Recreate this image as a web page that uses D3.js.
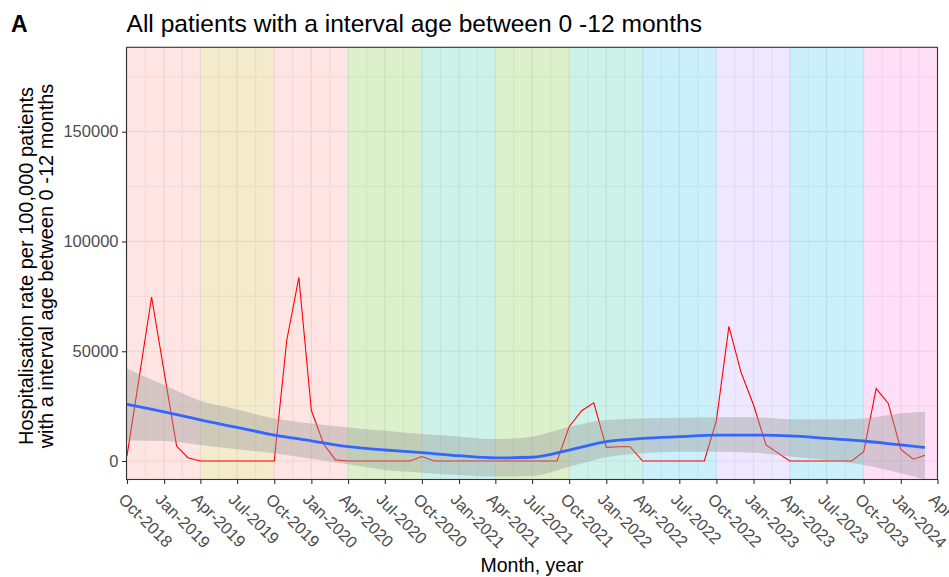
<!DOCTYPE html>
<html>
<head>
<meta charset="utf-8">
<script src="https://cdn.jsdelivr.net/npm/d3@7"></script>
<style>
  body { margin: 0; background: #fff; }
  svg { display: block; font-family: "Liberation Sans", Arial, sans-serif; }
</style>
</head>
<body>
<svg id="main_svg" width="949" height="577"></svg>
<script>
// monthly hospitalisation rate, Oct 2018 - Mar 2024
const months = [
  '2018-10', '2018-11', '2018-12',
  '2019-01', '2019-02', '2019-03', '2019-04', '2019-05', '2019-06',
  '2019-07', '2019-08', '2019-09', '2019-10', '2019-11', '2019-12',
  '2020-01', '2020-02', '2020-03', '2020-04', '2020-05', '2020-06',
  '2020-07', '2020-08', '2020-09', '2020-10', '2020-11', '2020-12',
  '2021-01', '2021-02', '2021-03', '2021-04', '2021-05', '2021-06',
  '2021-07', '2021-08', '2021-09', '2021-10', '2021-11', '2021-12',
  '2022-01', '2022-02', '2022-03', '2022-04', '2022-05', '2022-06',
  '2022-07', '2022-08', '2022-09', '2022-10', '2022-11', '2022-12',
  '2023-01', '2023-02', '2023-03', '2023-04', '2023-05', '2023-06',
  '2023-07', '2023-08', '2023-09', '2023-10', '2023-11', '2023-12',
  '2024-01', '2024-02', '2024-03'
];
const rates = [
  2300, 39000, 74700,
  40600, 6800, 1500, 0, 0, 0,
  0, 0, 0, 0, 55000, 83600,
  23000, 7500, 500, 0, 0, 0,
  0, 0, 0, 2000, 0, 0,
  0, 0, 0, 0, 0, 0,
  0, 0, 0, 15600, 22900, 26500,
  6200, 6500, 6500, 0, 0, 0,
  0, 0, 0, 18500, 61300, 40400,
  25500, 7300, 3800, 0, 0, 0,
  0, 0, 0, 4200, 33000, 26200,
  5300, 800, 2600
];

const smooth_dates = [
  '2018-10-01', '2019-01-01', '2019-04-01', '2019-07-01', '2019-10-01',
  '2020-01-01', '2020-04-01', '2020-07-01', '2020-10-01', '2021-01-01',
  '2021-04-01', '2021-07-01', '2021-10-01', '2022-01-01', '2022-04-01',
  '2022-07-01', '2022-10-01', '2023-01-01', '2023-04-01', '2023-07-01',
  '2023-10-01', '2024-01-01', '2024-03-01'
];
const smooth_fit = [
  25800, 22400, 18700, 15300, 11800, 9200, 6500, 5000, 3800, 2400,
  1400, 1700, 5000, 8800, 10300, 11100, 11800, 11800, 11400, 10300,
  9100, 7300, 6200
];
const smooth_lower = [
  9300, 9100, 7300, 5300, 3500, 1000, -1500, -4100, -5300, -6400,
  -7100, -6800, -2600, 1700, 3500, 4200, 4200, 3800, 2000, 450,
  -1800, -5600, -8300
];
const smooth_upper = [
  42000, 34600, 27400, 23500, 19400, 17100, 15300, 13800, 12300, 11100,
  10000, 11100, 15600, 18700, 19400, 19700, 19900, 19900, 19000, 19000,
  19400, 21700, 22400
];

// season shading
const season_starts = [
  '2018-10-01', '2019-04-01', '2019-10-01', '2020-04-01', '2020-10-01', '2021-04-01',
  '2021-10-01', '2022-04-01', '2022-10-01', '2023-04-01', '2023-10-01'
];
const season_ends = [
  '2019-04-01', '2019-10-01', '2020-04-01', '2020-10-01', '2021-04-01', '2021-10-01',
  '2022-04-01', '2022-10-01', '2023-04-01', '2023-10-01', '2024-04-01'
];
const season_colors = [
  '#F8766D', '#C49A00', '#F8766D', '#53B400', '#00C094', '#53B400',
  '#00C094', '#00B6EB', '#A58AFF', '#00B6EB', '#FB61D7'
];

const x_ticks = [
  '2018-10-01', '2019-01-01', '2019-04-01', '2019-07-01', '2019-10-01', '2020-01-01',
  '2020-04-01', '2020-07-01', '2020-10-01', '2021-01-01', '2021-04-01', '2021-07-01',
  '2021-10-01', '2022-01-01', '2022-04-01', '2022-07-01', '2022-10-01', '2023-01-01',
  '2023-04-01', '2023-07-01', '2023-10-01', '2024-01-01', '2024-04-01'
];
const y_ticks = [0, 50000, 100000, 150000];
const y_minor = [25000, 75000, 125000, 175000];

const parse_day = d3.timeParse('%Y-%m-%d');
const parse_month = d3.timeParse('%Y-%m');

const panel = { left: 126.5, right: 937.5, top: 47.3, bottom: 479.5 };

const x = d3.scaleTime()
  .domain([parse_day('2018-10-01'), parse_day('2024-04-01')])
  .range([panel.left + 0.5, panel.right]);
const y = d3.scaleLinear()
  .domain([-8430, 188450])
  .range([panel.bottom, panel.top]);

const svg = d3.select('#main_svg');

svg.append('defs').append('clipPath')
  .attr('id', 'panel_clip')
  .append('rect')
  .attr('x', panel.left)
  .attr('y', panel.top)
  .attr('width', panel.right - panel.left)
  .attr('height', panel.bottom - panel.top);

const plot = svg.append('g').attr('clip-path', 'url(#panel_clip)');

plot.append('rect')
  .attr('x', panel.left)
  .attr('y', panel.top)
  .attr('width', panel.right - panel.left)
  .attr('height', panel.bottom - panel.top)
  .style('fill', '#fff');

// grid: majors on ticks, minors half way between
const tick_dates = x_ticks.map(parse_day);
const minor_dates = [];
for (let i = 0; i < tick_dates.length - 1; i++) {
  minor_dates.push(new Date((+tick_dates[i] + +tick_dates[i + 1]) / 2));
}

plot.selectAll('.vert_minor')
  .data(minor_dates)
  .enter()
  .append('line')
  .attr('class', 'vert_minor')
  .attr('x1', d => x(d)).attr('x2', d => x(d))
  .attr('y1', panel.top).attr('y2', panel.bottom)
  .style('stroke', '#EBEBEB')
  .style('stroke-width', '0.8px');

plot.selectAll('.horz_minor')
  .data(y_minor)
  .enter()
  .append('line')
  .attr('class', 'horz_minor')
  .attr('x1', panel.left).attr('x2', panel.right)
  .attr('y1', d => y(d)).attr('y2', d => y(d))
  .style('stroke', '#EBEBEB')
  .style('stroke-width', '0.8px');

plot.selectAll('.vert_major')
  .data(tick_dates)
  .enter()
  .append('line')
  .attr('class', 'vert_major')
  .attr('x1', d => x(d)).attr('x2', d => x(d))
  .attr('y1', panel.top).attr('y2', panel.bottom)
  .style('stroke', '#EBEBEB')
  .style('stroke-width', '1.2px');

plot.selectAll('.horz_major')
  .data(y_ticks)
  .enter()
  .append('line')
  .attr('class', 'horz_major')
  .attr('x1', panel.left).attr('x2', panel.right)
  .attr('y1', d => y(d)).attr('y2', d => y(d))
  .style('stroke', '#EBEBEB')
  .style('stroke-width', '1.2px');

// season rectangles
plot.selectAll('.season')
  .data(season_starts)
  .enter()
  .append('rect')
  .attr('class', 'season')
  .attr('x', d => x(parse_day(d)))
  .attr('y', panel.top)
  .attr('width', (d, i) => x(parse_day(season_ends[i])) - x(parse_day(d)))
  .attr('height', panel.bottom - panel.top)
  .style('fill', (d, i) => season_colors[i])
  .style('fill-opacity', 0.2);

// observed rate
const rate_data = months.map((m, i) => ({ date: parse_month(m), value: rates[i] }));

plot.append('path')
  .datum(rate_data)
  .attr('d', d3.line().x(d => x(d.date)).y(d => y(d.value)))
  .style('fill', 'none')
  .style('stroke', '#FF0000')
  .style('stroke-width', '1.1px');

// smooth with ribbon
const smooth_data = smooth_dates.map((s, i) => ({
  date: parse_day(s),
  fit: smooth_fit[i],
  lower: smooth_lower[i],
  upper: smooth_upper[i]
}));

plot.append('path')
  .datum(smooth_data)
  .attr('d', d3.area()
    .curve(d3.curveMonotoneX)
    .x(d => x(d.date))
    .y0(d => y(d.lower))
    .y1(d => y(d.upper)))
  .style('fill', '#999999')
  .style('fill-opacity', 0.4);

plot.append('path')
  .datum(smooth_data)
  .attr('d', d3.line()
    .curve(d3.curveMonotoneX)
    .x(d => x(d.date))
    .y(d => y(d.fit)))
  .style('fill', 'none')
  .style('stroke', '#3366FF')
  .style('stroke-width', '2.8px');

// panel border
svg.append('rect')
  .attr('x', panel.left)
  .attr('y', panel.top)
  .attr('width', panel.right - panel.left)
  .attr('height', panel.bottom - panel.top)
  .style('fill', 'none')
  .style('stroke', '#333333')
  .style('stroke-width', '1.1px');

// axes
const fmt = d3.timeFormat('%b-%Y');

const x_axis = svg.append('g')
  .attr('transform', 'translate(0,' + panel.bottom + ')')
  .call(d3.axisBottom(x).tickValues(tick_dates).tickSize(4.5).tickSizeOuter(0).tickFormat(fmt));

x_axis.select('.domain').remove();
x_axis.selectAll('.tick line').style('stroke', '#333333').style('stroke-width', '1.1px');
x_axis.selectAll('.tick text')
  .attr('y', 0)
  .attr('dy', 0)
  .attr('transform', 'translate(-7,18) rotate(45)')
  .style('text-anchor', 'start')
  .style('dominant-baseline', 'middle')
  .style('font-size', '16.5px')
  .style('fill', '#4D4D4D');

const y_axis = svg.append('g')
  .attr('transform', 'translate(' + panel.left + ',0)')
  .call(d3.axisLeft(y).tickValues(y_ticks).tickSize(4.5).tickSizeOuter(0).tickFormat(d3.format('d')));

y_axis.select('.domain').remove();
y_axis.selectAll('.tick line').style('stroke', '#333333').style('stroke-width', '1.1px');
y_axis.selectAll('.tick text')
  .attr('x', -8)
  .style('font-size', '16.5px')
  .style('fill', '#4D4D4D');

// titles
svg.append('text')
  .attr('x', (panel.left + panel.right) / 2)
  .attr('y', 572)
  .style('text-anchor', 'middle')
  .style('font-size', '19.5px')
  .style('fill', '#000')
  .text('Month, year');

const y_title = svg.append('text')
  .attr('transform', 'translate(33,266) rotate(-90)')
  .style('text-anchor', 'middle')
  .style('font-size', '20px')
  .style('fill', '#000');
y_title.append('tspan').attr('x', 0).attr('y', 0).text('Hospitalisation rate per 100,000 patients');
y_title.append('tspan').attr('x', 0).attr('y', 20).text('with a interval age between 0 -12 months');

svg.append('text')
  .attr('x', panel.left)
  .attr('y', 31.5)
  .style('font-size', '24.6px')
  .style('fill', '#000')
  .text('All patients with a interval age between 0 -12 months');

svg.append('text')
  .attr('x', 11)
  .attr('y', 32)
  .style('font-size', '23px')
  .style('font-weight', 'bold')
  .style('fill', '#000')
  .text('A');
</script>
</body>
</html>
